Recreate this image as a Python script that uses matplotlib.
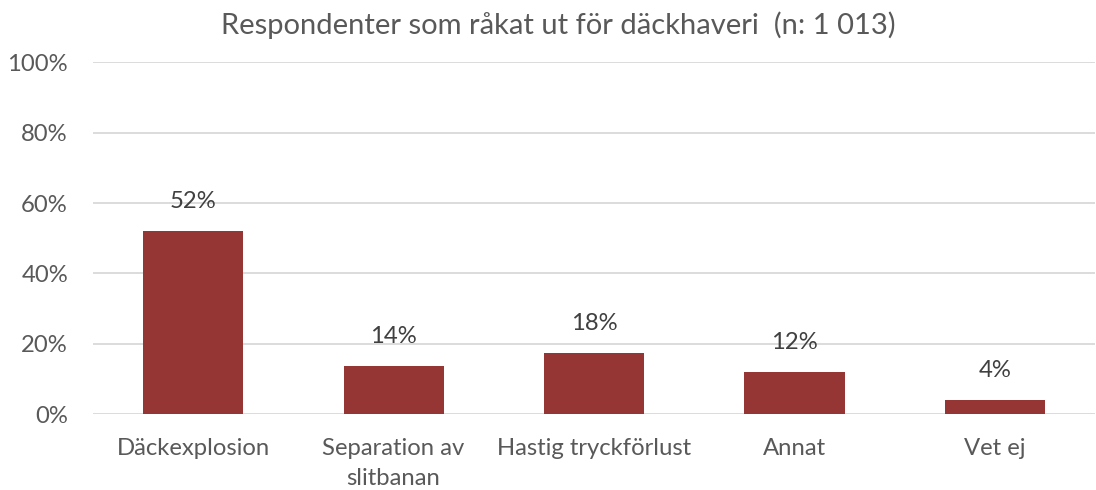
import matplotlib.pyplot as plt
import numpy as np

# data
categories = ['Däckexplosion', 'Separation av\nslitbanan', 'Hastig tryckförlust', 'Annat', 'Vet ej']
shares = [52.1, 13.7, 17.35, 11.9, 4.1]
labels = ['52%', '14%', '18%', '12%', '4%']
yticks = [0, 20, 40, 60, 80, 100]

bar_color = '#963634'
text_color = '#595959'
grid_color = '#d9d9d9'

plt.rcParams['font.family'] = ['Lato', 'DejaVu Sans']

fig = plt.figure(figsize=(10.96, 4.9), dpi=100)
ax = fig.add_axes([93 / 1096, 1 - 414 / 490, 1002 / 1096, 351.5 / 490])

x = np.arange(len(categories))
ax.bar(x, shares, width=0.5, color=bar_color, zorder=3)

for xi, v, lab in zip(x, shares, labels):
    ax.annotate(lab, (xi, v), xytext=(0, 13.5), textcoords='offset points',
                ha='center', va='bottom', fontsize=17.2, color='#404040')

ax.set_xlim(-0.5, len(categories) - 0.5)
ax.set_ylim(0, 100)
ax.set_yticks(yticks)
ax.set_yticklabels([f'{t}%' for t in yticks])
ax.set_xticks(x)
ax.set_xticklabels(categories, linespacing=1.55)
ax.yaxis.grid(True, color=grid_color, linewidth=1.3, zorder=0)
ax.tick_params(axis='both', length=0, labelsize=17.2, labelcolor=text_color)
ax.tick_params(axis='x', pad=17)
ax.tick_params(axis='y', pad=18)
for s in ax.spines.values():
    s.set_visible(False)

fig.text(558 / 1096, 1 - 25 / 490, 'Respondenter som råkat ut för däckhaveri  (n: 1 013)',
         ha='center', va='center', fontsize=21, color=text_color)

fig.savefig('out.png', dpi=100)
